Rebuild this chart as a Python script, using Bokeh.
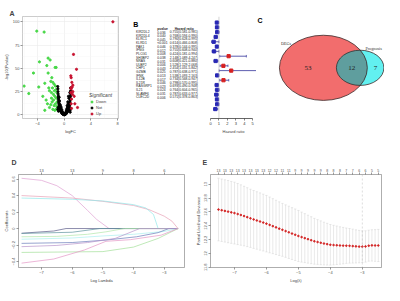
import math
from bokeh.plotting import figure
from bokeh.layouts import row, column
from bokeh.models import Range1d, LinearAxis, FixedTicker, Span
from bokeh.core.properties import value
from bokeh.embed import file_html
from bokeh.resources import INLINE

SX = 384 / 400
SY = 285 / 301
FONT = "Liberation Sans"

# ---------------- Panel A: volcano ----------------
down_fc = [-4.1,-3.0,-2.4,-2.1,-3.7,-2.6,-4.6,-2.4,-1.35,-1.2,-1.85,-6.0,-3.8,-2.9,-5.3,
           -2.3,-2.0,-1.7,-1.5,-1.3,-2.2,-1.9,-1.6,-1.4,-1.2,-3.2,-2.7,-2.5,-1.8,-1.5,
           -1.3,-1.1,-2.2,-1.7,-1.4,-1.05,-1.1,-1.25,-2.9,-1.9,-1.6,-1.2,-2.0,-1.45,-1.75]
down_p = [90,89,61,59,57,53,45,45,51,51,40,31,30,34,23,
          29,36,35,33,31,26,24,22,20,18,20,16,12,14,10,
          12,9,8,6,5,14,24,27,5,18,16,6,11,26,29]
not_fc = [0.0,0.1,-0.1,0.2,-0.2,0.05,-0.05,0.15,-0.15,0.3,
          -0.3,0.25,-0.25,0.35,-0.35,0.4,-0.4,0.45,-0.45,0.5,
          -0.5,0.55,-0.55,0.6,-0.6,0.65,-0.62,0.7,-0.66,0.72,
          -0.7,0.75,-0.72,0.78,-0.75,0.8,-0.78,0.82,-0.8,0.85,
          -0.82,0.88,-0.84,0.9,-0.86,0.92,-0.88,0.95,-0.9,0.96,
          -0.92,0.98,-0.94,0.97,-0.96,0.6,-0.5,0.4,-0.3,0.3,
          -0.7,0.7,-0.6,0.5,0.2,-0.2,0.1,-0.1,0.0,0.65,
          -0.75,0.85,0.55,-0.45,0.35,-0.35,0.75,-0.65,0.45,0.92,
          -0.9,0.95,-0.95,0.88,-0.85,0.9]
not_p = [0.3,0.5,0.6,1.0,1.1,0.2,0.4,0.8,0.9,1.5,
         1.6,1.2,1.3,2.0,2.1,2.6,2.8,3.2,3.4,3.8,
         4.0,4.5,4.7,5.2,5.5,6.0,6.3,7.0,7.2,8.0,
         8.3,9.1,9.5,10.2,10.8,11.5,12.0,12.8,13.5,14.2,
         15.0,16.0,16.8,17.5,18.5,19.5,20.2,21.0,22.5,23.5,
         25.0,26.0,28.0,29.0,30.5,12.0,9.0,6.5,4.0,3.5,
         15.0,18.0,11.0,8.0,2.0,2.5,1.2,1.5,0.8,20.0,
         19.0,24.0,14.0,7.5,5.0,5.5,11.0,10.0,10.0,12.0,
         8.0,7.0,6.0,5.0,4.0,3.0]
up_fc = [1.4,1.85,1.0,1.05,1.3,1.02,1.05,1.0,1.3,1.6,1.1,7.3,1.2,1.5,1.1,1.25,2.0,1.05,1.15]
up_p = [65,49,42,40,32,29,28,24,25,12,7,100,30,20,17,22,8,12,35]
volcano_xticks = [-4, 0, 4, 8]
volcano_yticks = [0, 25, 50, 75, 100]

# ---------------- Panel B: forest ----------------
genes = ["KIR2DL2","KIR2DL4","KLRC1","KLRD1","PAK1","IFNG","PLCG1","SH3BP2","NRAS","ULBP2",
         "CHP1","GZMB","IFNK","IL12B","IL21R","RASGRP1","IL21","SLAMF6","CLEC2D"]
pvals = ["0.036","0.040","0.045","<0.001","0.046","0.012","0.008","0.038","0.031","0.006",
         "0.043","0.025","0.013","0.017","0.046","0.023","0.024","0.031","0.006"]
hr = [0.755,0.768,0.790,0.614,0.378,0.755,0.424,2.148,0.608,1.528,
      2.454,0.787,1.538,0.734,0.798,0.693,0.764,0.787,0.571]
hr_lo = [0.581,0.594,0.628,0.466,0.144,0.608,0.181,1.089,0.421,1.129,
         1.031,0.638,1.093,0.568,0.570,0.490,0.604,0.633,0.378]
hr_hi = [0.981,0.990,0.995,0.808,0.995,0.940,0.994,4.247,0.880,2.068,
         5.842,0.971,2.163,0.947,0.995,0.948,0.965,0.977,0.863]
forest_ticks = [0, 1, 2, 3, 4, 5]

# ---------------- Panel C: venn ----------------
venn_only_degs = 53
venn_both = 12
venn_only_prog = 7
venn_names = ["DEGs", "Prognosis"]

# ---------------- Panel D: lasso paths ----------------
lasso_paths = [
    ([-7.65,-7.0,-6.5,-6.0,-5.5,-5.2,-4.8,-2.55], [0.61,0.585,0.52,0.40,0.22,0.11,0,0], "#E0A0D2"),
    ([-7.65,-6.0,-5.0,-4.0,-3.5,-3.0,-2.75,-2.55], [0.40,0.37,0.33,0.28,0.23,0.15,0.09,0], "#E8A0B6"),
    ([-7.65,-6.0,-5.0,-4.0,-3.6,-3.35,-3.2,-2.55], [0.37,0.355,0.335,0.29,0.25,0.17,0,0], "#94E8EA"),
    ([-7.65,-6.6,-6.2,-2.55], [-0.057,-0.03,0,0], "#5A5A88"),
    ([-7.65,-6.0,-5.1,-2.55], [-0.06,-0.045,0,0], "#5E949E"),
    ([-7.65,-6.5,-5.5,-4.9,-4.3,-2.55], [-0.10,-0.095,-0.07,-0.04,0,0], "#B2E6AA"),
    ([-7.65,-6.0,-5.0,-4.0,-3.0,-2.6,-2.55], [-0.13,-0.115,-0.09,-0.07,-0.035,-0.005,0], "#ACEFEF"),
    ([-7.65,-6.0,-4.9,-3.9,-3.2,-2.85,-2.55], [-0.18,-0.17,-0.14,-0.10,-0.05,0,0], "#6A7CBA"),
    ([-7.65,-6.5,-5.5,-4.6,-3.8,-2.55], [-0.22,-0.205,-0.17,-0.12,0,0], "#B894CC"),
    ([-7.65,-5.0,-4.0,-3.2,-2.55], [-0.29,-0.28,-0.225,-0.12,0], "#A4E09A"),
    ([-7.65,-6.6,-5.6,-4.9,-4.1,-3.1,-2.55], [-0.42,-0.37,-0.26,-0.155,-0.135,-0.08,0], "#E496C6"),
]
lasso_xticks = [-7, -6, -5, -4, -3]
lasso_top_labels = ["13", "13", "9", "8", "6"]
lasso_yticks = [-0.4, -0.2, 0.0, 0.2, 0.4, 0.6]

# ---------------- Panel E: cv curve ----------------
cv_loglambda = [-7.5,-7.4,-7.3,-7.2,-7.1,-7.0,-6.9,-6.8,-6.7,-6.6,
                -6.5,-6.4,-6.3,-6.2,-6.1,-6.0,-5.9,-5.8,-5.7,-5.6,
                -5.5,-5.4,-5.3,-5.2,-5.1,-5.0,-4.9,-4.8,-4.7,-4.6,
                -4.5,-4.4,-4.3,-4.2,-4.1,-4.0,-3.9,-3.8,-3.7,-3.6,
                -3.5,-3.4,-3.3,-3.2,-3.1,-3.0,-2.9,-2.8,-2.7,-2.6,-2.5]
cv_mean = [12.634,12.624,12.614,12.604,12.593,12.583,12.569,12.555,12.540,12.524,
           12.507,12.491,12.476,12.461,12.446,12.430,12.412,12.394,12.376,12.358,
           12.341,12.323,12.305,12.287,12.270,12.252,12.236,12.221,12.206,12.191,
           12.176,12.165,12.154,12.143,12.134,12.125,12.121,12.118,12.115,12.113,
           12.112,12.110,12.106,12.102,12.099,12.098,12.101,12.112,12.116,12.115,12.115]
cv_se = [0.452,0.451,0.450,0.449,0.447,0.446,0.441,0.436,0.430,0.425,
         0.420,0.418,0.415,0.413,0.410,0.408,0.403,0.397,0.392,0.387,
         0.382,0.379,0.377,0.374,0.372,0.369,0.361,0.354,0.346,0.339,
         0.331,0.323,0.316,0.308,0.301,0.293,0.285,0.278,0.270,0.263,
         0.255,0.250,0.245,0.239,0.234,0.229,0.226,0.224,0.226,0.229,0.232]
cv_top_labels = [13,13,13,13,13,13,13,13,12,12,11,11,9,9,9,9,9,8,8,8,7,7,6,6,5,5]
cv_lambda_min = -3.0
cv_yticks = [11.8, 12.0, 12.2, 12.4, 12.6, 12.8, 13.0]


def base(w, h, l, r, t, b, **kw):
    p = figure(width=w, height=h, output_backend="svg", toolbar_location=None,
               min_border_left=l, min_border_right=r, min_border_top=t, min_border_bottom=b, **kw)
    p.background_fill_color = "white"
    p.border_fill_color = "white"
    return p


def style_axis(ax, fs="4px", color="#333333"):
    ax.major_label_text_font_size = fs
    ax.major_label_text_font = FONT
    ax.axis_label_text_font_size = fs
    ax.axis_label_text_font = FONT
    ax.axis_label_text_font_style = "normal"
    ax.major_tick_out = 2
    ax.major_tick_in = 0
    ax.minor_tick_out = 0
    ax.minor_tick_in = 0
    ax.major_label_standoff = 1
    ax.axis_label_standoff = 1
    ax.major_label_text_color = color
    ax.major_tick_line_color = color
    ax.major_tick_line_width = 0.6


def panel_title(p, letter, offset):
    p.title.text = letter
    p.title.text_font_size = "7px"
    p.title.text_font_style = "bold"
    p.title.text_font = FONT
    p.title.align = "left"
    p.title.offset = offset
    p.title.standoff = 0


# ---- A ----
pA = base(125, 149, 16, 7, 9, 31, x_range=Range1d(-6.24, 8.14), y_range=Range1d(-3.8, 105.7))
panel_title(pA, "A", -13)
pA.xaxis.ticker = FixedTicker(ticks=volcano_xticks, minor_ticks=[-6, -2, 2, 6])
pA.yaxis.ticker = FixedTicker(ticks=volcano_yticks, minor_ticks=[12.5, 37.5, 62.5, 87.5])
pA.xaxis.axis_label = "logFC"
pA.yaxis.axis_label = "-log10(Pvalue)"
for ax in pA.xaxis + pA.yaxis:
    style_axis(ax, color="#4D4D4D")
    ax.axis_line_color = None
pA.grid.grid_line_color = "#EBEBEB"
pA.grid.grid_line_width = 0.6
pA.grid.minor_grid_line_color = "#F4F4F4"
pA.grid.minor_grid_line_width = 0.4
pA.outline_line_color = "#AAAAAA"
pA.outline_line_width = 0.6
pA.scatter(down_fc, down_p, size=2.2, color="#47D847", legend_label="Down")
pA.scatter(not_fc, not_p, size=2.2, color="black", legend_label="Not")
pA.scatter(up_fc, up_p, size=2.2, color="#C8102E", legend_label="Up")
lg = pA.legend[0]
lg.location = "bottom_right"
lg.title = "Significant"
lg.title_text_font_size = "5px"
lg.title_text_font = FONT
lg.title_standoff = 1
lg.label_text_font_size = "4px"
lg.label_text_font = FONT
lg.glyph_width = 5
lg.glyph_height = 5
lg.label_height = 5
lg.label_standoff = 2
lg.spacing = 1
lg.padding = 2
lg.margin = 2
lg.background_fill_alpha = 0
lg.border_line_color = None

# ---- B ----
ROW_Y0, ROW_DY = 24, 5.56


def idx(Y):
    return 1 + (Y - ROW_Y0) / ROW_DY


yi = list(range(1, len(genes) + 1))
pBt = base(79, 149, 0, 0, 0, 0, x_range=Range1d(130, 212), y_range=Range1d(idx(157), idx(0)))
pBt.axis.visible = False
pBt.grid.visible = False
pBt.outline_line_color = None
hr_text = [f"{h:.3f}({l:.3f}-{u:.3f})" for h, l, u in zip(hr, hr_lo, hr_hi)]
tkw = dict(text_font_size="3.3px", text_font=value(FONT), text_baseline="middle", text_color="#222222")
pBt.text(x=[141] * len(genes), y=yi, text=genes, **tkw)
pBt.text(x=[163] * len(genes), y=yi, text=pvals, **tkw)
pBt.text(x=[176] * len(genes), y=yi, text=hr_text, **tkw)
pBt.text(x=[163, 181], y=[idx(19), idx(19)], text=["pvalue", "Hazard ratio"],
         text_font_size="3.3px", text_font=value(FONT), text_baseline="middle", text_font_style="bold",
         text_color="#222222")
pBt.text(x=[138], y=[idx(12)], text=["B"], text_font_size="7px", text_font=value(FONT),
         text_font_style="bold", text_baseline="middle")

pBf = base(52, 149, 6, 0, 16, 21, x_range=Range1d(0, 5.45), y_range=Range1d(idx(135), idx(17)))
pBf.yaxis.visible = False
pBf.grid.visible = False
pBf.outline_line_color = None
pBf.xaxis.ticker = FixedTicker(ticks=forest_ticks)
pBf.xaxis.bounds = (0, 5)
pBf.xaxis.axis_label = "Hazard ratio"
style_axis(pBf.xaxis[0])
pBf.xaxis.axis_line_width = 0.6
pBf.add_layout(Span(location=1, dimension="height", line_color="#AAAAAA", line_width=0.5))
pBf.segment(x0=hr_lo, y0=yi, x1=hr_hi, y1=yi, line_color="#33339A", line_width=0.8)
pBf.scatter(hr_lo, yi, marker="dash", angle=math.pi / 2, size=2.5, line_color="#33339A", line_width=0.7)
pBf.scatter(hr_hi, yi, marker="dash", angle=math.pi / 2, size=2.5, line_color="#33339A", line_width=0.7)
box_col = ["#D62020" if h > 1 else "#2828B4" for h in hr]
pBf.scatter(hr, yi, marker="square", size=3.2, fill_color=box_col, line_color=box_col)

# ---- C ----
pC = base(128, 149, 0, 0, 0, 0, x_range=Range1d(266, 400), y_range=Range1d(157, 0))
pC.axis.visible = False
pC.grid.visible = False
pC.outline_line_color = None
n1 = venn_only_degs + venn_both
n2 = venn_only_prog + venn_both
R1 = 46.0
K = R1 / math.sqrt(n1)
R2 = K * math.sqrt(n2)
ASP = 1.09
target = venn_both * math.pi * K * K


def lens(d):
    a1 = math.acos(max(-1, min(1, (d * d + R1 * R1 - R2 * R2) / (2 * d * R1))))
    a2 = math.acos(max(-1, min(1, (d * d + R2 * R2 - R1 * R1) / (2 * d * R2))))
    s = max(0.0, (-d + R1 + R2) * (d + R1 - R2) * (d - R1 + R2) * (d + R1 + R2))
    return R1 * R1 * a1 + R2 * R2 * a2 - 0.5 * math.sqrt(s)


lo_d, hi_d = R1 - R2 + 1e-6, R1 + R2 - 1e-6
for _ in range(60):
    mid = 0.5 * (lo_d + hi_d)
    if lens(mid) > target:
        lo_d = mid
    else:
        hi_d = mid
D = 0.5 * (lo_d + hi_d)
C1X, CY = 336.0, 79.0
C2X = C1X + D
pC.ellipse(x=[C1X], y=[CY], width=[2 * R1], height=[2 * R1 * ASP], fill_color="#F26D6D", line_color=None)
pC.ellipse(x=[C2X], y=[CY], width=[2 * R2], height=[2 * R2 * ASP], fill_color="#62F0F0", line_color=None)
a = (D * D + R1 * R1 - R2 * R2) / (2 * D)
h = math.sqrt(R1 * R1 - a * a)
th1 = math.atan2(h, a)
al = math.atan2(h, a - D)
lx, ly = [], []
N = 60
for i in range(N + 1):
    t = -th1 + 2 * th1 * i / N
    lx.append(C1X + R1 * math.cos(t)); ly.append(CY + ASP * R1 * math.sin(t))
for i in range(N + 1):
    t = al + (2 * math.pi - 2 * al) * i / N
    lx.append(C2X + R2 * math.cos(t)); ly.append(CY + ASP * R2 * math.sin(t))
pC.patch(lx, ly, fill_color="#5F9E9E", line_color=None)
pC.ellipse(x=[C1X, C2X], y=[CY, CY], width=[2 * R1, 2 * R2], height=[2 * R1 * ASP, 2 * R2 * ASP],
           fill_color=None, line_color="#3A2A2A", line_width=0.8)
lens_l, lens_r = C2X - R2, C1X + R1
pC.text(x=[(C1X - R1 + lens_l) / 2, (lens_l + lens_r) / 2, (lens_r + C2X + R2) / 2], y=[CY] * 3,
        text=[str(venn_only_degs), str(venn_both), str(venn_only_prog)],
        text_font_size="7px", text_font=value("Liberation Serif"), text_align="center", text_baseline="middle",
        text_color="#222222")
pC.text(x=[297], y=[41], text=[venn_names[0]], text_font_size="4.2px",
        text_font=value("Liberation Serif"), text_align="center", text_baseline="middle", text_color="#333333")
pC.text(x=[380], y=[49], text=[venn_names[1]], text_font_size="4.2px",
        text_font=value("Liberation Serif"), text_align="left", text_baseline="middle", text_color="#333333")
pC.text(x=[267], y=[6], text=["C"], text_font_size="7px", text_font=value(FONT),
        text_font_style="bold", text_baseline="middle")

# ---- D ----
pD = base(192, 136, 12, 8, 25, 12, x_range=Range1d(-7.75, -2.34), y_range=Range1d(-0.473, 0.656))
panel_title(pD, "D", -7)
pD.grid.visible = False
pD.outline_line_color = "#777777"
pD.outline_line_width = 0.6
pD.xaxis.ticker = FixedTicker(ticks=lasso_xticks)
pD.yaxis.ticker = FixedTicker(ticks=lasso_yticks)
pD.xaxis.axis_label = "Log Lambda"
pD.yaxis.axis_label = "Coefficients"
pD.yaxis.major_label_orientation = "vertical"
topD = LinearAxis(ticker=FixedTicker(ticks=lasso_xticks),
                  major_label_overrides={t: s for t, s in zip(lasso_xticks, lasso_top_labels)})
pD.add_layout(topD, "above")
for ax in pD.xaxis + pD.yaxis + [topD]:
    style_axis(ax, color="#555555")
    ax.axis_line_color = None
for xs, ys, c in lasso_paths:
    pD.line(xs, ys, line_color=c, line_width=0.7)

# ---- E ----
pE = base(192, 136, 17, 3, 25, 12, x_range=Range1d(-7.75, -2.40), y_range=Range1d(11.797, 13.14))
panel_title(pE, "E", -8)
pE.grid.visible = False
pE.outline_line_color = "#777777"
pE.outline_line_width = 0.6
pE.xaxis.ticker = FixedTicker(ticks=lasso_xticks)
pE.yaxis.ticker = FixedTicker(ticks=cv_yticks)
pE.xaxis.axis_label = "Log(λ)"
pE.yaxis.axis_label = "Partial Likelihood Deviance"
pE.yaxis.major_label_orientation = "vertical"
top_ticks = cv_loglambda[::2]
topE = LinearAxis(ticker=FixedTicker(ticks=top_ticks),
                  major_label_overrides={t: str(s) for t, s in zip(top_ticks, cv_top_labels)})
pE.add_layout(topE, "above")
for ax in pE.xaxis + pE.yaxis + [topE]:
    style_axis(ax, color="#555555")
    ax.axis_line_color = None
topE.major_label_text_font_size = "3.5px"
up = [m + s for m, s in zip(cv_mean, cv_se)]
dn = [m - s for m, s in zip(cv_mean, cv_se)]
pE.segment(x0=cv_loglambda, y0=dn, x1=cv_loglambda, y1=up, line_color="#D2D2D2", line_width=0.5)
pE.scatter(cv_loglambda, up, marker="dash", size=2.2, line_color="#D2D2D2", line_width=0.5)
pE.scatter(cv_loglambda, dn, marker="dash", size=2.2, line_color="#D2D2D2", line_width=0.5)
pE.add_layout(Span(location=cv_lambda_min, dimension="height", line_color="#BBBBBB",
                   line_width=0.5, line_dash="2 2"))
pE.scatter(cv_loglambda, cv_mean, size=1.6, color="#D42020")

layout = column(row(pA, pBt, pBf, pC), row(pD, pE))
open("out.html", "w").write(file_html(layout, INLINE))
